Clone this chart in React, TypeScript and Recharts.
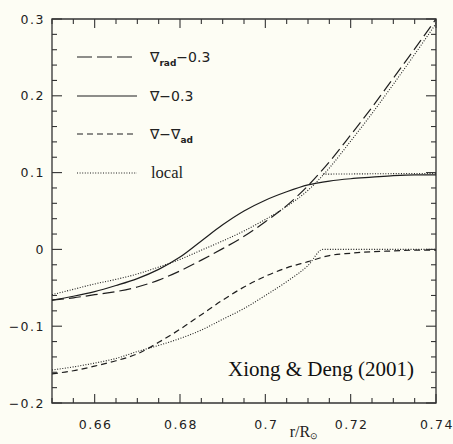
import { LineChart, Line, XAxis, YAxis, ReferenceArea } from "recharts"

// radius grid, r / R_sun
const R = [0.65, 0.655, 0.66, 0.665, 0.67, 0.675, 0.68, 0.685, 0.69, 0.695, 0.7, 0.705, 0.71, 0.715, 0.72, 0.725, 0.73, 0.735, 0.74]

// nonlocal model
const GRAD_RAD = [-0.066, -0.063, -0.059, -0.055, -0.049, -0.04, -0.028, -0.014, 0.001, 0.017, 0.036, 0.057, 0.083, 0.114, 0.149, 0.185, 0.223, 0.261, 0.3]
const GRAD = [-0.066, -0.061, -0.055, -0.047, -0.038, -0.026, -0.01, 0.011, 0.032, 0.05, 0.064, 0.075, 0.084, 0.089, 0.092, 0.094, 0.096, 0.097, 0.097]
const GRAD_MINUS_AD = [-0.162, -0.158, -0.152, -0.145, -0.136, -0.121, -0.104, -0.085, -0.066, -0.049, -0.035, -0.024, -0.016, -0.008, -0.005, -0.003, -0.002, -0.001, -0.001]

// local model
const LOCAL_RAD = [-0.059, -0.052, -0.045, -0.039, -0.032, -0.023, -0.013, -0.001, 0.011, 0.024, 0.039, 0.056, 0.077, 0.106, 0.141, 0.177, 0.215, 0.254, 0.294]
const LOCAL_GRAD_R = [0.7135, 0.74]
const LOCAL_GRAD = [0.098, 0.099]
const LOCAL_AD_R = [0.65, 0.655, 0.66, 0.665, 0.67, 0.675, 0.68, 0.685, 0.69, 0.695, 0.7, 0.705, 0.71, 0.7135, 0.72, 0.73, 0.74]
const LOCAL_AD = [-0.157, -0.153, -0.148, -0.142, -0.133, -0.125, -0.116, -0.105, -0.091, -0.077, -0.06, -0.042, -0.021, 0, 0, 0, 0]

// ticks
const X_TICKS = [0.65, 0.655, 0.66, 0.665, 0.67, 0.675, 0.68, 0.685, 0.69, 0.695, 0.7, 0.705, 0.71, 0.715, 0.72, 0.725, 0.73, 0.735, 0.74]
const X_MAJOR = [0.66, 0.68, 0.7, 0.72, 0.74]
const X_LABELS = ["0.66", "0.68", "0.7", "0.72", "0.74"]
const Y_TICKS = [-0.2, -0.18, -0.16, -0.14, -0.12, -0.1, -0.08, -0.06, -0.04, -0.02, 0, 0.02, 0.04, 0.06, 0.08, 0.1, 0.12, 0.14, 0.16, 0.18, 0.2, 0.22, 0.24, 0.26, 0.28, 0.3]
const Y_MAJOR = [-0.2, -0.1, 0, 0.1, 0.2, 0.3]
const Y_LABELS = ["\u22120.2", "\u22120.1", "0", "0.1", "0.2", "0.3"]

const INK = "#1e1e1e"
const AXIS = "#333"
const BG = "#fdfdf4"
const SANS = "'DejaVu Sans', sans-serif"
const SERIF = "'Liberation Serif', 'Times New Roman', serif"

// plot frame in pixels (set by the margins below)
const LEFT = 52
const RIGHT = 436
const TOP = 19
const BOTTOM = 403

const main = R.map((r, i) => ({
  r,
  rad: GRAD_RAD[i],
  grad: GRAD[i],
  diff: GRAD_MINUS_AD[i],
  localRad: LOCAL_RAD[i],
}))
const localGradData = LOCAL_GRAD_R.map((r, i) => ({ r, v: LOCAL_GRAD[i] }))
const localAdData = LOCAL_AD_R.map((r, i) => ({ r, v: LOCAL_AD[i] }))

const majorIndex = (v: number, list: number[]) => list.findIndex((m) => Math.abs(m - v) < 1e-6)

// bottom tick also draws the matching tick on the top edge
function XTick({ x, payload }: any) {
  const i = majorIndex(payload.value, X_MAJOR)
  const len = i >= 0 ? 9 : 5
  return (
    <g>
      <line x1={x} x2={x} y1={BOTTOM} y2={BOTTOM - len} stroke={AXIS} strokeWidth={1.1} />
      <line x1={x} x2={x} y1={TOP} y2={TOP + len} stroke={AXIS} strokeWidth={1.1} />
      {i >= 0 && (
        <text x={x + 1} y={BOTTOM + 26} textAnchor="middle" fontFamily={SANS} fontSize={12.5} letterSpacing={1.5} fill="#222">
          {X_LABELS[i]}
        </text>
      )}
    </g>
  )
}

// left tick also draws the matching tick on the right edge
function YTick({ y, payload }: any) {
  const i = majorIndex(payload.value, Y_MAJOR)
  const len = i >= 0 ? 10 : 5
  return (
    <g>
      <line x1={LEFT} x2={LEFT + len} y1={y} y2={y} stroke={AXIS} strokeWidth={1.1} />
      <line x1={RIGHT} x2={RIGHT - len} y1={y} y2={y} stroke={AXIS} strokeWidth={1.1} />
      {i >= 0 && (
        <text x={LEFT - 7} y={y + 4.5} textAnchor="end" fontFamily={SANS} fontSize={12.5} letterSpacing={1.5} fill="#222">
          {Y_LABELS[i]}
        </text>
      )}
    </g>
  )
}

function LegendBox() {
  const row = (y: number, dash: string | undefined, label: any) => (
    <g key={y}>
      <line x1={77} x2={137} y1={y} y2={y} stroke={INK} strokeWidth={1.2} strokeDasharray={dash} />
      <text x={150} y={y + 5} fontFamily={SANS} fontSize={14} fill="#222">
        {label}
      </text>
    </g>
  )
  return (
    <g>
      {row(57, "15 5", <>{"\u2207"}<tspan fontSize={9} fontWeight="bold" dy={4}>rad</tspan><tspan dy={-4}>{"\u22120.3"}</tspan></>)}
      {row(96, undefined, "\u2207\u22120.3")}
      {row(134, "6 4", <>{"\u2207\u2212\u2207"}<tspan fontSize={9} fontWeight="bold" dy={4}>ad</tspan></>)}
      <g>
        <line x1={77} x2={137} y1={173} y2={173} stroke={INK} strokeWidth={1.2} strokeDasharray="1 1.6" />
        <text x={151} y={178} fontFamily={SERIF} fontSize={16.5} fill="#222">local</text>
      </g>
    </g>
  )
}

export default function App() {
  return (
    <div style={{ position: "absolute", left: 0, top: 0, width: 453, height: 444, background: BG, overflow: "hidden" }}>
      <LineChart width={453} height={444} data={main} margin={{ top: TOP, right: 453 - RIGHT, bottom: 0, left: 0 }}>
        <XAxis
          dataKey="r"
          type="number"
          domain={[0.65, 0.74]}
          allowDataOverflow
          ticks={X_TICKS}
          interval={0}
          height={444 - BOTTOM}
          tickLine={false}
          tick={<XTick />}
          axisLine={false}
        />
        <YAxis
          type="number"
          domain={[-0.2, 0.3]}
          allowDataOverflow
          ticks={Y_TICKS}
          interval={0}
          width={LEFT}
          tickLine={false}
          tick={<YTick />}
          axisLine={false}
        />
        <ReferenceArea x1={0.65} x2={0.74} y1={-0.2} y2={0.3} fill="none" stroke={AXIS} strokeWidth={1.3} ifOverflow="visible" />
        <Line dataKey="rad" type="monotone" stroke={INK} strokeWidth={1.2} strokeDasharray="12 5" dot={false} isAnimationActive={false} />
        <Line dataKey="grad" type="monotone" stroke={INK} strokeWidth={1.2} dot={false} isAnimationActive={false} />
        <Line dataKey="diff" type="monotone" stroke={INK} strokeWidth={1.2} strokeDasharray="6 4" dot={false} isAnimationActive={false} />
        <Line dataKey="localRad" type="monotone" stroke={INK} strokeWidth={1.1} strokeDasharray="1 1.6" dot={false} isAnimationActive={false} />
        <Line data={localGradData} dataKey="v" type="linear" stroke={INK} strokeWidth={1.1} strokeDasharray="1 1.6" dot={false} isAnimationActive={false} />
        <Line data={localAdData} dataKey="v" type="monotone" stroke={INK} strokeWidth={1.1} strokeDasharray="1 1.6" dot={false} isAnimationActive={false} />
        <LegendBox />
        <text x={228} y={376} fontFamily={SERIF} fontSize={21} fill="#111">Xiong &amp; Deng (2001)</text>
        <text x={304} y={437} textAnchor="middle" fontFamily={SERIF} fontSize={16} fill="#222">
          r/R<tspan fontSize={9} dy={2}>{"\u2299"}</tspan>
        </text>
      </LineChart>
    </div>
  )
}
